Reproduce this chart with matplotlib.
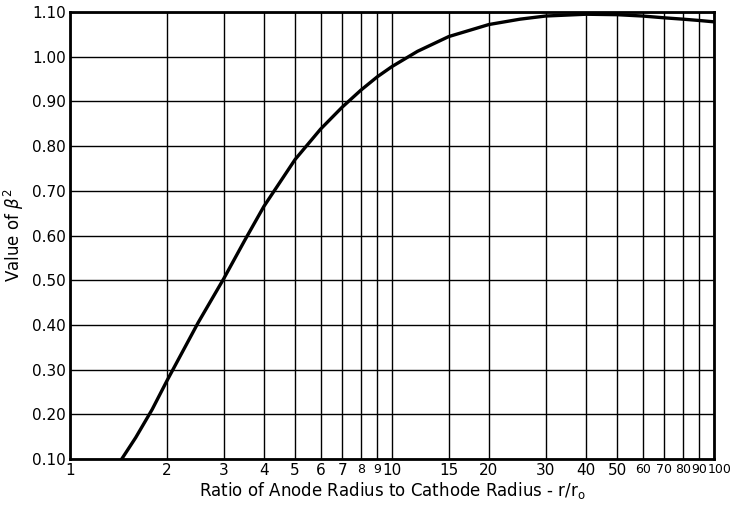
import matplotlib.pyplot as plt
from matplotlib.transforms import ScaledTranslation

# Langmuir-Blodgett beta^2 values
ratio = [1.4, 1.5, 1.6, 1.8, 2.0, 2.5, 3.0, 3.5, 4.0, 5.0, 6.0, 7.0, 8.0, 9.0,
         10, 12, 15, 20, 25, 30, 40, 50, 60, 70, 80, 90, 100]
beta2 = [0.084, 0.117, 0.148, 0.211, 0.275, 0.405, 0.503, 0.591, 0.665, 0.770,
         0.838, 0.887, 0.925, 0.955, 0.978, 1.012, 1.045, 1.072, 1.084, 1.091,
         1.095, 1.094, 1.091, 1.087, 1.084, 1.081, 1.078]

x_ticks = [1, 2, 3, 4, 5, 6, 7, 8, 9, 10, 15, 20, 30, 40, 50, 60, 70, 80, 90, 100]
y_ticks = [0.10, 0.20, 0.30, 0.40, 0.50, 0.60, 0.70, 0.80, 0.90, 1.00, 1.10]

fig = plt.figure(figsize=(7.33, 5.07), dpi=100)
ax = fig.add_axes([70 / 733, 1 - 459 / 507, 644 / 733, 447 / 507])

ax.plot(ratio, beta2, color="black", lw=2.4, clip_on=True)

ax.set_xscale("log")
ax.set_xlim(1, 100)
ax.set_ylim(0.10, 1.10)
ax.set_xticks(x_ticks)
ax.set_xticklabels([str(t) for t in x_ticks])
ax.minorticks_off()
ax.set_yticks(y_ticks)
ax.set_yticklabels([f"{t:.2f}" for t in y_ticks])
ax.tick_params(length=0, labelsize=11, pad=3)
# crowded labels at the right end of the log axis
for lbl in ax.get_xticklabels():
    if lbl.get_text() in ("8", "9", "60", "70", "80", "90", "100"):
        lbl.set_fontsize(9)
    if lbl.get_text() == "100":
        lbl.set_transform(lbl.get_transform() + ScaledTranslation(6 / 100, 0, fig.dpi_scale_trans))
ax.grid(True, color="black", lw=1.0)
for s in ax.spines.values():
    s.set_linewidth(2)

ax.set_xlabel("Ratio of Anode Radius to Cathode Radius - r/r$_\\mathrm{o}$", fontsize=12, labelpad=1)
ax.set_ylabel("Value of $\\beta^2$", fontsize=12, labelpad=4)

fig.savefig("out.png", dpi=100)
